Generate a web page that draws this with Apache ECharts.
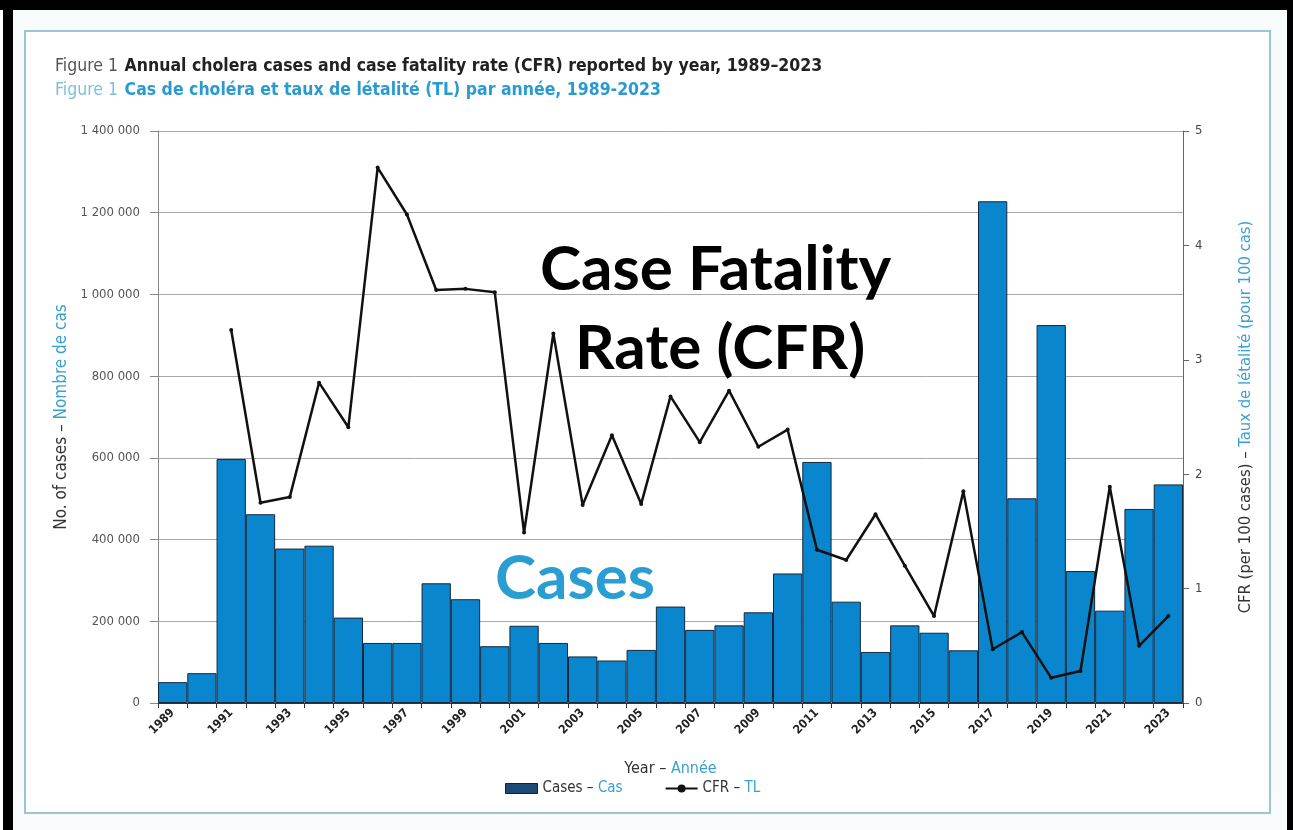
<!DOCTYPE html>
<html>
<head>
<meta charset="utf-8">
<script src="https://cdn.jsdelivr.net/npm/echarts@6/dist/echarts.min.js"></script>
<style>
html,body{margin:0;padding:0;background:#fff;}
#c{width:1293px;height:830px;}
</style>
</head>
<body>
<div id="c"></div>
<script>
const years = ['1989','1990','1991','1992','1993','1994','1995','1996','1997','1998','1999','2000','2001','2002','2003','2004','2005','2006','2007','2008','2009','2010','2011','2012','2013','2014','2015','2016','2017','2018','2019','2020','2021','2022','2023'];
const cases = [51000,73000,597000,462000,378000,385000,209000,147000,147000,293000,254000,139000,189000,147000,114000,104000,130000,236000,179000,190000,222000,317000,590000,248000,125000,190000,172000,129000,1228000,501000,925000,323000,226000,475000,535000];
const cfr = [null,null,3.26,1.75,1.80,2.80,2.41,4.68,4.27,3.61,3.62,3.59,1.49,3.23,1.73,2.34,1.74,2.68,2.28,2.73,2.24,2.39,1.34,1.25,1.65,1.20,0.76,1.85,0.47,0.62,0.22,0.28,1.89,0.50,0.76];
const leftTicks = ['0','200 000','400 000','600 000','800 000','1 000 000','1 200 000','1 400 000'];
const rightTicks = ['0','1','2','3','4','5'];

const condensed = '"Liberation Sans Narrow","DejaVu Sans Condensed","Open Sans",sans-serif';
const big = 'Lato,"Open Sans",sans-serif';
const chart = echarts.init(document.getElementById('c'));
chart.setOption({
  backgroundColor: '#ffffff',
  animation: false,
  graphic: [
    {type:'rect', shape:{x:0,y:0,width:1293,height:10}, style:{fill:'#000'}, silent:true},
    {type:'rect', shape:{x:3,y:0,width:10,height:830}, style:{fill:'#000'}, silent:true},
    {type:'rect', shape:{x:1287,y:0,width:6,height:830}, style:{fill:'#000'}, silent:true},
    {type:'rect', shape:{x:13,y:10,width:1274,height:820}, style:{fill:'#f7fbfc'}, silent:true, z:-1},
    {type:'rect', shape:{x:25,y:31,width:1245,height:782}, style:{fill:'#ffffff', stroke:'#9cc4d2', lineWidth:2}, silent:true, z:-1},
    {type:'text', left:55, top:57, style:{
      text:'{g|Figure 1}  {b|Annual cholera cases and case fatality rate (CFR) reported by year, 1989–2023}',
      rich:{
        g:{fontFamily:condensed, fontSize:17.5, fill:'#555'},
        b:{fontFamily:condensed, fontSize:17.5, fontWeight:'bold', fill:'#222'}
      }}},
    {type:'text', left:55, top:81, style:{
      text:'{g|Figure 1}  {b|Cas de choléra et taux de létalité (TL) par année, 1989-2023}',
      rich:{
        g:{fontFamily:condensed, fontSize:17.5, fill:'#7fbfdc'},
        b:{fontFamily:condensed, fontSize:17.5, fontWeight:'bold', fill:'#2a9ad0'}
      }}},
    {type:'text', left:540, top:239, z:100, style:{
      text:'Case Fatality', fontFamily:big, fontWeight:'bold', fontSize:62, fill:'#000'}},
    {type:'text', left:575, top:318, z:100, style:{
      text:'Rate (CFR)', fontFamily:big, fontWeight:'bold', fontSize:62, fill:'#000'}},
    {type:'text', left:495, top:548, z:100, style:{
      text:'Cases', fontFamily:big, fontWeight:'bold', fontSize:62, fill:'#2a9dd2'}}
  ],
  grid: {left:158, right:110, top:131, bottom:127, containLabel:false},
  legend: {
    bottom: 29, left: 500,
    itemGap: 42, itemWidth: 32, itemHeight: 10,
    data: [
      {name:'Cases – Cas', icon:'rect', itemStyle:{color:'#1d4a74', borderColor:'#0d2238', borderWidth:1}},
      {name:'CFR – TL'}
    ],
    formatter: function(n){ const p = n.split(' – '); return '{a|' + p[0] + ' – }{b|' + p[1] + '}'; },
    textStyle: {
      fontFamily: condensed, fontSize: 15,
      rich: { a:{fontFamily:condensed, fontSize:15, color:'#333'}, b:{fontFamily:condensed, fontSize:15, color:'#3aa0d4'} }
    }
  },
  xAxis: {
    type:'category', data: years,
    name: '{a|Year – }{b|Année}', nameLocation:'middle', nameGap:58,
    nameTextStyle: { rich: { a:{fontFamily:condensed, fontSize:16, color:'#333'}, b:{fontFamily:condensed, fontSize:16, color:'#3aa0d4'} } },
    axisLine: {lineStyle:{color:'#333', width:1}},
    axisTick: {show:true, interval:0, length:5, lineStyle:{color:'#333'}},
    axisLabel: {interval:1, rotate:45, fontFamily:condensed, fontWeight:'bold', fontSize:12, color:'#222', margin:8}
  },
  yAxis: [
    {
      type:'value', min:0, max:1400000, interval:200000, position:'left',
      name: '{a|No. of cases – }{b|Nombre de cas}', nameLocation:'middle', nameGap:86, nameRotate:90,
      nameTextStyle: { rich: { a:{fontFamily:condensed, fontSize:17, color:'#333'}, b:{fontFamily:condensed, fontSize:17, color:'#3aa0d4'} } },
      axisLine: {show:true, lineStyle:{color:'#888'}},
      axisTick: {show:true, length:8, lineStyle:{color:'#888'}},
      axisLabel: {fontFamily:condensed, fontSize:13, color:'#555', margin:18,
        formatter: function(v){ return leftTicks[Math.round(v/200000)]; }},
      splitLine: {show:true, lineStyle:{color:'#a8a8a8', width:1}}
    },
    {
      type:'value', min:0, max:5, interval:1, position:'right',
      name: '{a|CFR (per 100 cases) – }{b|Taux de létalité (pour 100 cas)}', nameLocation:'middle', nameGap:54, nameRotate:90,
      nameTextStyle: { rich: { a:{fontFamily:condensed, fontSize:16.5, color:'#333'}, b:{fontFamily:condensed, fontSize:16.5, color:'#3aa0d4'} } },
      axisLine: {show:true, lineStyle:{color:'#666'}},
      axisTick: {show:true, length:6, lineStyle:{color:'#666'}},
      axisLabel: {fontFamily:condensed, fontSize:13, color:'#444', margin:12,
        formatter: function(v){ return rightTicks[Math.round(v)]; }},
      splitLine: {show:false}
    }
  ],
  series: [
    {
      name:'Cases – Cas', type:'bar', data: cases, yAxisIndex:0,
      barCategoryGap:'0%',
      itemStyle:{color:'#0a86cf', borderColor:'#14283c', borderWidth:1}
    },
    {
      name:'CFR – TL', type:'line', data: cfr, yAxisIndex:1,
      symbol:'circle', symbolSize:4, connectNulls:false,
      lineStyle:{color:'#111', width:2.5},
      itemStyle:{color:'#111'}
    }
  ]
});
</script>
</body>
</html>
